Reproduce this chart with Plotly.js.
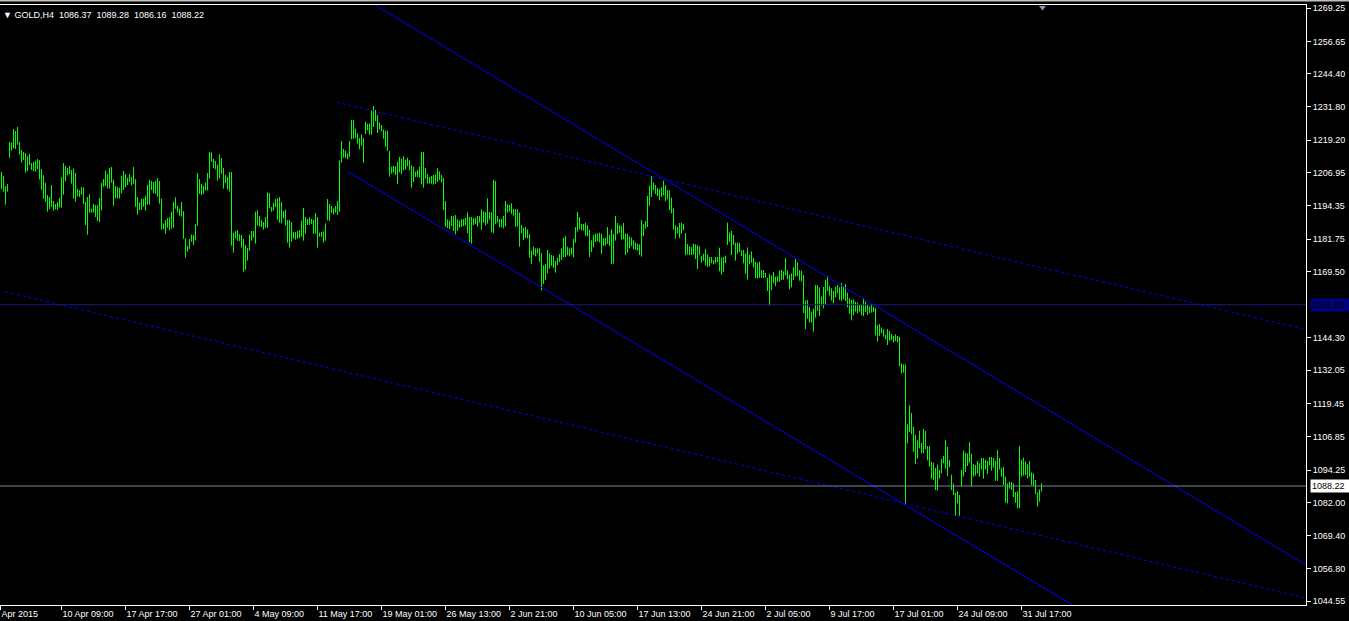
<!DOCTYPE html>
<html><head><meta charset="utf-8">
<script src="https://cdn.plot.ly/plotly-3.0.1.min.js"></script>
<style>html,body{margin:0;padding:0;background:#000;overflow:hidden}</style>
</head><body><div id="chart" style="width:1349px;height:621px"></div>
<script>
// ---- DATA (GOLD, H4) ----
const symbolName = 'GOLD,H4';
const lastOHLC = [1086.37, 1089.28, 1086.16, 1088.22];

const barHigh = [
1207.16,1205.64,1201.85,1202.61,1218.52,1218.27,1223.44,1222.69,1224.20,1218.52,
1215.49,1214.73,1214.35,1213.09,1213.97,1210.56,1210.94,1211.45,1212.08,1211.70,
1208.29,1205.89,1202.99,1198.44,1197.69,1202.23,1196.17,1195.03,1195.79,1197.31,
1205.26,1210.56,1209.55,1208.67,1209.43,1207.91,1208.54,1206.78,1200.84,1200.34,
1201.47,1201.35,1195.79,1197.69,1198.82,1193.27,1195.03,1194.66,1194.66,1197.31,
1202.99,1204.50,1207.66,1206.40,1208.67,1209.05,1204.25,1201.85,1201.47,1201.22,
1205.77,1207.53,1206.40,1205.01,1206.40,1205.26,1209.05,1204.50,1197.69,1195.67,
1197.05,1197.05,1198.19,1202.23,1204.12,1203.75,1203.37,1203.87,1204.88,1203.75,
1197.05,1187.71,1188.97,1189.73,1190.11,1192.13,1195.79,1197.56,1194.40,1193.27,
1195.80,1192.39,1182.04,1179.26,1181.78,1183.55,1183.30,1187.47,1206.78,1204.51,
1202.62,1201.86,1203.12,1206.78,1214.74,1214.61,1212.09,1211.33,1209.94,1213.86,
1212.47,1208.68,1206.03,1205.27,1207.16,1207.16,1184.18,1184.81,1185.19,1183.55,
1183.30,1181.78,1179.51,1178.38,1183.43,1184.81,1184.81,1192.14,1192.64,1190.50,
1188.86,1188.22,1190.12,1199.46,1199.21,1193.91,1195.55,1196.94,1197.31,1197.69,
1195.80,1192.39,1192.90,1188.98,1188.98,1188.22,1184.44,1184.44,1184.81,1185.19,
1188.73,1193.53,1190.12,1189.36,1189.99,1189.36,1188.98,1191.63,1190.12,1184.18,
1184.44,1184.69,1187.72,1196.94,1195.04,1194.28,1193.40,1194.28,1196.18,1211.58,
1218.91,1215.88,1215.24,1214.23,1218.91,
1226.86,1226.86,1223.58,1221.81,1220.04,1221.43,1220.04,1226.23,1225.47,1225.47,
1230.40,1232.16,1230.65,1228.75,1225.98,1224.97,1223.20,1222.69,1222.82,1215.12,
1209.18,1209.44,1209.31,1211.08,1212.85,1212.09,1213.10,1211.84,1212.59,1211.58,
1209.69,1209.18,1207.29,1207.92,1209.18,1214.74,1214.74,1208.68,1206.41,1205.27,
1205.65,1206.03,1206.28,1208.68,1207.42,1206.03,1204.89,1196.18,1189.23,1188.73,
1190.50,1190.50,1190.88,1189.23,1188.73,1189.36,1189.36,1189.74,1191.89,1190.12,
1190.12,1189.61,1189.87,1190.50,1190.50,1193.02,1192.26,1192.01,1197.19,1192.01,
1191.89,1204.13,1203.75,1190.50,1189.36,1189.36,1190.50,1196.18,1194.92,1194.66,
1195.29,1193.15,1193.15,1193.02,1191.76,
1187.08,1186.07,1186.33,1185.44,1183.67,1177.36,1178.88,1178.24,1178.24,1178.24,
1176.48,1171.80,1172.31,1177.61,1176.35,1175.72,1175.47,1173.45,1174.71,1176.10,
1178.24,1182.28,1182.92,1178.88,1178.24,1178.50,1181.78,1186.33,1192.01,1190.11,
1187.46,1187.46,1187.97,1187.08,1185.32,1181.27,1183.29,1183.80,1183.93,1184.18,
1183.80,1182.16,1182.28,1186.33,1183.29,1185.44,1183.67,1190.49,1187.84,1186.96,
1186.70,1187.84,1183.80,1183.80,1182.66,1182.28,1181.27,1180.52,1180.01,1179.76,
1188.98,1187.34,1188.60,1198.07,1201.98,1205.64,1203.12,1202.23,1201.10,1200.59,
1201.35,1203.88,1202.23,1200.34,1200.21,1197.44,1193.40,1186.96,1186.33,1187.84,
1187.97,1187.46,1184.05,1179.89,1179.00,1178.75,1180.01,1179.76,1179.38,1179.00,
1175.35,1176.23,1178.00,1175.98,1174.97,1174.97,1173.83,1174.97,1174.97,1178.50,
1174.71,1174.97,1175.47,1187.97,1184.31,1184.82,1183.30,1180.40,1180.40,1180.27,
1177.49,1177.62,1176.23,1178.63,1175.85,1177.11,1174.71,1173.20,1172.82,1173.20,
1170.04,1170.04,1168.91,1167.14,1168.65,1167.90,1169.29,1167.52,1167.64,1169.92,
1170.04,1169.54,1174.59,1169.92,1168.28,1168.78,1171.05,1174.21,1172.95,1170.04,
1169.79,1168.15,1158.43,1158.68,1156.15,1154.26,1155.40,1164.36,1164.36,1163.48,
1159.94,1163.60,1166.38,1167.77,1164.11,1163.10,1162.09,1163.73,1164.36,1163.48,
1165.12,1163.98,1164.74,1161.46,1159.31,1158.68,1158.93,1158.05,1157.67,1156.91,
1156.91,1159.31,1158.05,1156.79,1156.28,1157.04,1156.15,1155.65,1149.21,1149.59,
1148.33,1147.57,1145.55,1147.69,1146.94,1145.80,1145.04,1145.67,1145.04,1144.72,
1134.68,1134.30,1134.30,1111.58,1118.90,1115.87,1110.69,1107.66,1105.52,1109.18,
1104.51,1109.81,1109.05,1103.37,1103.37,1097.44,1097.06,1095.04,1096.30,1094.28,
1098.45,1099.58,1105.64,1102.99,1098.07,1092.51,1089.23,1085.69,1086.33,1084.81,
1094.28,1101.60,1100.85,1100.59,1104.89,1100.47,1096.43,1096.17,1097.69,1096.80,
1098.83,1098.83,1098.19,1097.69,1099.20,1099.20,1098.83,1097.82,1101.86,1098.83,
1095.04,1095.54,1091.75,1089.23,1089.86,1089.73,1089.23,1085.95,1086.20,1103.37,
1098.19,1098.95,1097.44,1096.43,1097.69,1093.40,1093.02,1090.49,1085.69,1086.96,
1089.28
];

const barLow = [
1200.72,1199.71,1194.78,1199.71,1212.58,1215.24,1216.12,1215.87,1217.51,1213.72,
1210.69,1211.70,1206.90,1207.53,1209.81,1207.91,1207.53,1207.28,1208.29,1204.38,
1200.46,1197.05,1195.92,1192.13,1193.14,1194.02,1192.51,1193.01,1192.76,1193.77,
1193.65,1198.57,1203.62,1205.89,1206.40,1202.74,1197.05,1195.92,1197.94,1197.69,
1198.57,1195.16,1187.08,1183.42,1191.75,1191.75,1191.88,1190.11,1188.59,1188.22,
1192.51,1201.60,1201.85,1200.97,1200.84,1203.11,1194.40,1197.31,1197.18,1197.05,
1199.07,1200.34,1201.35,1202.23,1203.37,1202.10,1202.61,1194.02,1190.99,1192.76,
1192.76,1194.02,1192.51,1194.78,1194.78,1200.34,1199.07,1198.95,1197.81,1195.16,
1185.31,1185.44,1183.80,1186.07,1185.06,1185.69,1186.07,1193.27,1191.88,1190.61,
1190.24,1181.91,1174.71,1176.99,1178.00,1180.77,1179.51,1181.28,1186.84,1198.83,
1198.45,1198.83,1200.22,1200.09,1204.64,1211.08,1208.68,1208.17,1203.88,1204.76,
1206.41,1200.85,1202.87,1200.60,1199.71,1179.26,1176.61,1182.04,1181.15,1181.03,
1178.50,1169.41,1170.17,1173.58,1177.37,1181.15,1182.29,1180.02,1186.84,1186.58,
1186.33,1185.32,1186.08,1186.08,1193.40,1192.14,1192.52,1193.91,1189.11,1187.97,
1187.72,1189.61,1186.84,1180.40,1178.50,1180.77,1181.91,1181.53,1181.91,1182.16,
1182.67,1181.15,1183.80,1187.09,1187.09,1187.47,1183.80,1183.80,1178.50,1182.67,
1182.54,1180.40,1181.15,1188.86,1188.60,1191.63,1191.13,1191.89,1190.88,1192.01,
1210.70,1212.59,1212.34,1211.96,1212.85,
1219.54,1219.79,1219.92,1217.90,1215.75,1217.14,1210.70,1221.56,1222.95,1221.30,
1221.30,1224.21,1226.48,1221.94,1223.32,1222.57,1219.79,1216.76,1215.12,1205.40,
1206.53,1206.91,1206.03,1202.62,1207.04,1206.41,1207.67,1208.05,1209.31,1207.79,
1201.23,1203.38,1205.27,1205.27,1205.02,1202.49,1201.23,1204.76,1202.74,1202.74,
1202.74,1202.37,1202.74,1203.38,1204.13,1203.25,1192.77,1186.33,1185.95,1185.57,
1186.71,1184.81,1183.55,1184.94,1186.08,1186.33,1186.71,1186.96,1184.06,1180.52,
1180.02,1187.09,1187.34,1186.46,1187.97,1185.32,1187.97,1186.96,1187.59,1189.11,
1184.31,1184.06,1187.34,1187.97,1186.20,1186.20,1185.82,1186.58,1191.76,1192.14,
1191.25,1190.62,1186.46,1186.46,1178.88,
1183.93,1181.40,1182.16,1182.03,1174.71,1172.31,1175.72,1175.21,1176.35,1173.19,
1162.21,1164.73,1166.25,1168.77,1170.54,1171.68,1170.79,1169.03,1171.93,1173.07,
1173.83,1174.84,1174.96,1175.59,1175.21,1175.85,1174.84,1180.39,1184.56,1185.44,
1185.06,1184.94,1183.04,1182.79,1174.96,1176.86,1178.62,1180.64,1180.90,1180.52,
1176.10,1179.13,1179.25,1179.89,1179.13,1172.31,1172.44,1181.15,1183.67,1184.18,
1181.53,1181.65,1175.72,1176.60,1178.24,1179.13,1177.87,1177.74,1177.36,1175.72,
1175.09,1182.92,1185.69,1186.33,1194.41,1197.69,1200.21,1198.83,1198.07,1196.43,
1197.69,1198.32,1196.17,1196.80,1192.76,1191.50,1185.32,1181.91,1183.93,1182.16,
1183.80,1185.06,1175.59,1175.85,1175.72,1175.72,1175.97,1174.20,1170.42,1175.72,
1172.82,1173.58,1171.81,1171.18,1171.31,1172.57,1172.19,1172.57,1173.07,1169.54,
1168.28,1169.29,1172.57,1179.51,1180.77,1175.72,1179.51,1173.58,1176.23,1176.86,
1175.35,1172.57,1168.65,1166.38,1172.19,1172.82,1171.05,1167.01,1166.76,1167.01,
1167.01,1167.01,1167.14,1162.09,1156.53,1162.34,1164.99,1163.98,1165.50,1165.62,
1166.25,1166.38,1168.02,1166.51,1162.72,1163.48,1166.25,1167.52,1167.77,1166.00,
1165.75,1153.75,1147.69,1151.61,1150.22,1150.09,1146.68,1151.99,1154.51,1152.62,
1156.53,1155.52,1156.79,1162.09,1160.32,1158.43,1157.42,1159.69,1161.20,1158.68,
1158.30,1158.93,1158.30,1155.90,1153.38,1150.98,1152.87,1154.26,1153.63,1154.26,
1152.87,1152.62,1154.13,1153.00,1153.63,1153.88,1154.13,1145.30,1143.02,1145.04,
1146.05,1144.79,1143.78,1141.63,1143.28,1143.53,1142.64,1143.15,1142.64,1133.67,
1130.90,1131.15,1081.27,1104.38,1108.67,1107.79,1101.22,1096.55,1098.57,1102.49,
1100.59,1100.59,1102.11,1097.94,1095.54,1091.00,1090.49,1086.70,1086.45,1091.12,
1093.02,1096.80,1094.91,1092.01,1095.42,1086.70,1084.81,1076.98,1081.65,1076.98,
1088.09,1091.75,1093.52,1095.79,1097.06,1088.09,1091.75,1092.13,1093.02,1091.75,
1094.53,1091.00,1094.53,1092.64,1096.17,1094.15,1095.16,1090.24,1090.11,1094.53,
1091.75,1088.60,1081.91,1081.65,1087.21,1086.70,1084.05,1081.91,1079.76,1079.76,
1091.75,1092.13,1092.39,1091.12,1091.75,1088.60,1088.22,1085.19,1080.39,1082.28,
1086.16
];

// time-axis labels (bar index where each label sits)
const timeTickIndex = [-0.5, 30, 62, 94, 126, 158, 190, 222, 254, 286, 318, 350, 382, 414, 446, 478, 510];
const timeTickText = ['Apr 2015','10 Apr 09:00','17 Apr 17:00','27 Apr 01:00','4 May 09:00','11 May 17:00',
  '19 May 01:00','26 May 13:00','2 Jun 21:00','10 Jun 05:00','17 Jun 13:00','24 Jun 21:00',
  '2 Jul 05:00','9 Jul 17:00','17 Jul 01:00','24 Jul 09:00','31 Jul 17:00'];

const priceTicks = [1044.55,1056.80,1069.40,1082.00,1094.25,1106.85,1119.45,1132.05,1144.30,
  1169.50,1181.75,1194.35,1206.95,1219.20,1231.80,1244.40,1256.65,1269.25];

// horizontal line (navy) and bid line
const hLinePrice = 1156.89;
const bidPrice = 1088.22;

// trend lines: [bar index], [price]
const chanUpperX = [182.6, 652.25], chanUpperY = [1272.31, 1058.30];
const chanLowerX = [172.9, 549.25], chanLowerY = [1207.42, 1036.93];
const dotUpperX  = [167.6, 652.25], dotUpperY  = [1233.56, 1147.50];
const dotLowerX  = [1.75, 652.25],  dotLowerY  = [1161.82, 1045.80];

// ---- BUILD ----
const bx = [], by = [];
for (let i = 0; i < barHigh.length; i++) {
  bx.push(i, i, null);
  by.push(barLow[i], barHigh[i], null);
}
const BLUE = '#0000ff';
const traces = [
  {type:'scatter', mode:'lines', x:bx, y:by, line:{color:'#00ff00', width:1}, hoverinfo:'skip'},
  {type:'scatter', mode:'lines', x:chanUpperX, y:chanUpperY, line:{color:BLUE, width:1}, hoverinfo:'skip'},
  {type:'scatter', mode:'lines', x:chanLowerX, y:chanLowerY, line:{color:BLUE, width:1}, hoverinfo:'skip'},
  {type:'scatter', mode:'lines', x:dotUpperX, y:dotUpperY, line:{color:BLUE, width:1, dash:'3px,3px'}, hoverinfo:'skip'},
  {type:'scatter', mode:'lines', x:dotLowerX, y:dotLowerY, line:{color:BLUE, width:1, dash:'3px,3px'}, hoverinfo:'skip'}
];

const FONT = 'Liberation Sans, Arial, sans-serif';
const nb = '\u00a0';
const header = '\u25BC' + nb + symbolName + nb + nb + lastOHLC.map(v => v.toFixed(2)).join(nb + nb);

const layout = {
  width: 1349, height: 621,
  margin: {l: 0, r: 43, t: 5, b: 16, pad: 0},
  paper_bgcolor: '#000000', plot_bgcolor: '#000000',
  showlegend: false,
  font: {family: FONT, size: 9, color: '#ffffff'},
  xaxis: {
    range: [-0.75, 652.25], tickmode: 'array', tickvals: timeTickIndex, ticktext: timeTickText,
    ticks: 'outside', ticklen: 4, tickwidth: 1, tickcolor: '#ffffff',
    ticklabelposition: 'outside right',
    showline: true, linecolor: '#ffffff', linewidth: 1, mirror: true,
    showgrid: false, zeroline: false, fixedrange: true,
    tickfont: {family: FONT, size: 9, color: '#ffffff'}
  },
  yaxis: {
    side: 'right', range: [1043.15, 1270.42], tickmode: 'array', tickvals: priceTicks,
    ticktext: priceTicks.map(v => v.toFixed(2)),
    ticks: 'outside', ticklen: 4, tickwidth: 1, tickcolor: '#ffffff',
    showline: true, linecolor: '#ffffff', linewidth: 1,
    showgrid: false, zeroline: false, fixedrange: true,
    tickfont: {family: FONT, size: 9, color: '#ffffff'}
  },
  shapes: [
    {type:'line', xref:'paper', x0:0, x1:1, yref:'y', y0:hLinePrice, y1:hLinePrice, line:{color:'#1a1a80', width:1}},
    {type:'line', xref:'paper', x0:0, x1:1, yref:'y', y0:bidPrice, y1:bidPrice, line:{color:'#778899', width:1}},
    {type:'path', xref:'paper', yref:'paper', path:'M 0.79556 0.99833 L 0.80092 0.99833 L 0.79824 0.99083 Z',
      fillcolor:'#8a97a6', line:{width:0}},
    {type:'rect', xref:'paper', yref:'paper', x0:0, x1:1.0330, y0:1.00583, y1:1.0084,
      fillcolor:'#c4c0b4', line:{width:0}}
  ],
  annotations: [
    {xref:'paper', yref:'paper', x:0, y:1, xanchor:'left', yanchor:'top', xshift:1, yshift:-3,
      text: header, showarrow:false, font:{family:FONT, size:9, color:'#ffffff'}},
    {xref:'paper', yref:'y', x:1, y:hLinePrice, xanchor:'left', yanchor:'middle', xshift:4,
      text: hLinePrice.toFixed(2), showarrow:false, bgcolor:'#000080', borderpad:1, width:37, align:'left',
      font:{family:FONT, size:9, color:'#000000'}},
    {xref:'paper', yref:'y', x:1, y:bidPrice, xanchor:'left', yanchor:'middle', xshift:4,
      text: bidPrice.toFixed(2), showarrow:false, bgcolor:'#ffffff', borderpad:1, width:37, align:'left',
      font:{family:FONT, size:9, color:'#000000'}}
  ]
};

Plotly.newPlot('chart', traces, layout, {displayModeBar:false, staticPlot:true});
</script>
</body></html>
